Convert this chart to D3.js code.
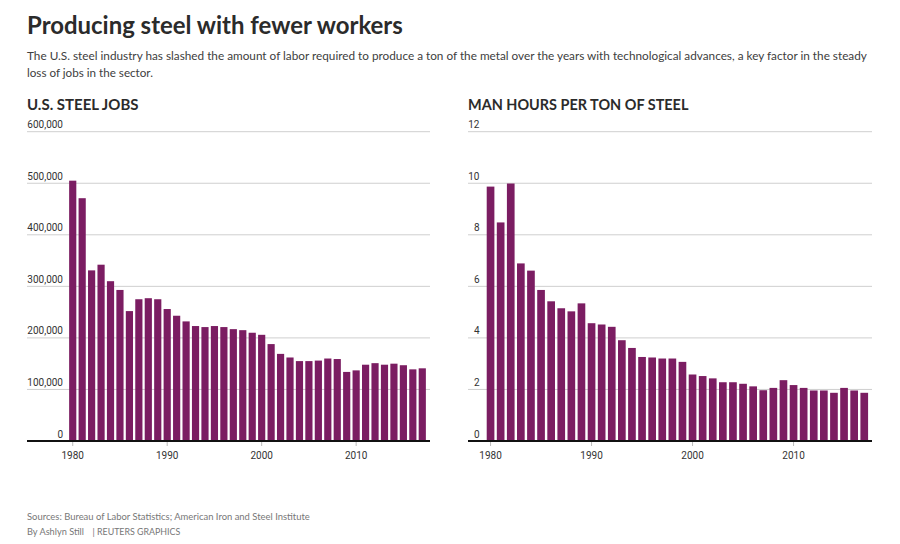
<!DOCTYPE html>
<html>
<head>
<meta charset="utf-8">
<script src="https://cdn.jsdelivr.net/npm/d3@7"></script>
<style>
  body { margin: 0; background: #fff; }
  text { font-family: Lato, "Noto Sans", sans-serif; }
</style>
</head>
<body>
<div id="plot"></div>
<script>
// Data
const years = [1980, 1981, 1982, 1983, 1984, 1985, 1986, 1987, 1988, 1989,
  1990, 1991, 1992, 1993, 1994, 1995, 1996, 1997, 1998, 1999,
  2000, 2001, 2002, 2003, 2004, 2005, 2006, 2007, 2008, 2009,
  2010, 2011, 2012, 2013, 2014, 2015, 2016, 2017];

const steelJobs = [505000, 471000, 331000, 342000, 310000, 293000, 252000, 275000, 277000, 275000,
  256000, 243000, 232000, 223000, 221000, 223000, 221000, 217000, 215000, 210000,
  206000, 188000, 169000, 162000, 155000, 155000, 156000, 160000, 159000, 134000,
  137000, 148000, 151000, 148000, 150000, 147000, 139000, 141000];

const manHours = [9.87, 8.48, 9.99, 6.89, 6.61, 5.86, 5.42, 5.15, 5.03, 5.34,
  4.57, 4.52, 4.43, 3.91, 3.61, 3.26, 3.24, 3.20, 3.20, 3.07,
  2.58, 2.52, 2.43, 2.28, 2.28, 2.22, 2.12, 1.97, 2.06, 2.36,
  2.17, 2.06, 1.96, 1.96, 1.87, 2.06, 1.96, 1.87];

const jobsTicks = [0, 100000, 200000, 300000, 400000, 500000, 600000];
const hoursTicks = [0, 2, 4, 6, 8, 10, 12];
const yearTicks = [1980, 1990, 2000, 2010];

const width = 900;
const height = 544;
const barColor = "#7b1d62";

const svg = d3.select("#plot")
  .append("svg")
  .attr("width", width)
  .attr("height", height);

// shrink or grow a text's font so it spans the given width
function fitWidth(sel, target) {
  const node = sel.node();
  const size = parseFloat(sel.style("font-size"));
  const w = node.getComputedTextLength();
  if (w > 0) sel.style("font-size", (size * target / w).toFixed(2) + "px");
  return sel;
}

// Header
fitWidth(svg.append("text")
  .attr("x", 27).attr("y", 34)
  .style("font-size", "23px")
  .style("font-weight", 700)
  .attr("fill", "#2b2b2b")
  .text("Producing steel with fewer workers"), 376);

fitWidth(svg.append("text")
  .attr("x", 27).attr("y", 60)
  .attr("fill", "#404040")
  .style("font-size", "12.5px")
  .text("The U.S. steel industry has slashed the amount of labor required to produce a ton of the metal over the years with technological advances, a key factor in the steady"), 841);

fitWidth(svg.append("text")
  .attr("x", 27).attr("y", 77)
  .attr("fill", "#404040")
  .style("font-size", "12.5px")
  .text("loss of jobs in the sector."), 126);

// Footer
fitWidth(svg.append("text")
  .attr("x", 27).attr("y", 520)
  .attr("fill", "#777")
  .style("font-size", "10.5px")
  .text("Sources: Bureau of Labor Statistics; American Iron and Steel Institute"), 283);
fitWidth(svg.append("text")
  .attr("x", 27).attr("y", 534.5)
  .attr("fill", "#777")
  .style("font-size", "10.5px")
  .text("By Ashlyn Still"), 57);
fitWidth(svg.append("text")
  .attr("x", 92.5).attr("y", 534.5)
  .attr("fill", "#777")
  .style("font-size", "10.5px")
  .text("| REUTERS GRAPHICS"), 88);

// One bar panel
function drawPanel(opts) {
  const g = svg.append("g");

  fitWidth(g.append("text")
    .attr("x", opts.left).attr("y", 110)
    .style("font-size", "15.5px")
    .style("font-weight", 700)
    .attr("fill", "#2b2b2b")
    .text(opts.title), opts.titleWidth);

  const x = d3.scaleBand()
    .domain(years)
    .range([opts.barStart, opts.barEnd])
    .paddingInner(0.24)
    .paddingOuter(0.12);

  const y = d3.scaleLinear()
    .domain([0, d3.max(opts.ticks)])
    .range([441, 131.7]);

  // gridlines
  g.selectAll("line.grid")
    .data(opts.ticks)
    .enter()
    .append("line")
    .attr("class", "grid")
    .attr("x1", opts.left)
    .attr("x2", opts.right)
    .attr("y1", d => y(d))
    .attr("y2", d => y(d))
    .attr("stroke", "#cfcfcf")
    .attr("stroke-width", 1);

  g.selectAll("text.ylab")
    .data(opts.ticks)
    .enter()
    .append("text")
    .attr("class", "ylab")
    .attr("x", opts.labelRight)
    .attr("y", d => y(d) - 3.5)
    .attr("text-anchor", "end")
    .attr("fill", "#333")
    .style("font-family", "Roboto, sans-serif")
    .style("font-size", "10px")
    .text(d => d3.format(",")(d));

  g.selectAll("rect")
    .data(opts.values)
    .enter()
    .append("rect")
    .attr("x", (d, i) => x(years[i]))
    .attr("width", x.bandwidth())
    .attr("y", d => y(d))
    .attr("height", d => y(0) - y(d))
    .attr("fill", barColor);

  // x axis
  const axis = d3.axisBottom(x)
    .tickValues(yearTicks)
    .tickSize(5)
    .tickPadding(6);

  const ax = g.append("g")
    .attr("transform", "translate(0,441)")
    .call(axis);
  ax.select(".domain").remove();
  ax.selectAll(".tick line").attr("stroke", "#bbb");
  ax.selectAll(".tick text")
    .attr("fill", "#333")
    .style("font-family", "Roboto, sans-serif")
    .style("font-size", "10px");

  g.append("line")
    .attr("x1", opts.left)
    .attr("x2", opts.right)
    .attr("y1", 441)
    .attr("y2", 441)
    .attr("stroke", "#111")
    .attr("stroke-width", 1.8);
}

drawPanel({
  title: "U.S. STEEL JOBS",
  titleWidth: 111.5,
  left: 27, right: 430,
  labelRight: 63,
  barStart: 68, barEnd: 427,
  ticks: jobsTicks,
  values: steelJobs
});

drawPanel({
  title: "MAN HOURS PER TON OF STEEL",
  titleWidth: 220.5,
  left: 468, right: 872,
  labelRight: 479.5,
  barStart: 485.5, barEnd: 869.3,
  ticks: hoursTicks,
  values: manHours
});
</script>
</body>
</html>
